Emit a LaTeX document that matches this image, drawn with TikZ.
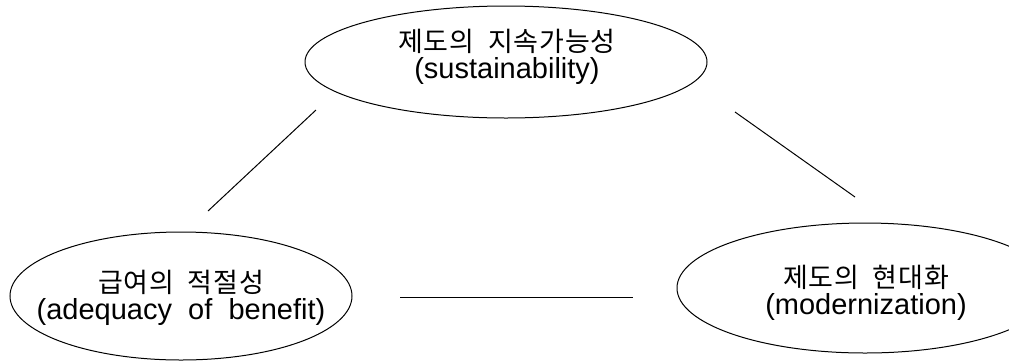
\documentclass[tikz,border=0pt]{standalone}
\usepackage{fontspec}
\setmainfont{Liberation Sans}
\newfontfamily\kr[LetterSpace=3]{Noto Sans CJK KR}
\tikzset{
  label text/.style={inner sep=0pt, align=center,
    font=\fontsize{29}{27}\selectfont},
  rim/.style={draw, line width=1pt},
  link/.style={draw, line width=1pt}
}
\newcommand{\krline}[1]{{\kr\fontsize{27}{27}\selectfont #1}}
\begin{document}
\begin{tikzpicture}[x=1pt,y=-1pt]
\useasboundingbox (0,0) rectangle (1009,360);
\clip (0,0) rectangle (1009,360);
\node[label text] (top) at (507,57)
  {\krline{제도의\ \ 지속가능성}\\(sustainability)};
\node[label text] (left) at (181,298)
  {\krline{급여의\ \ 적절성}\\(adequacy\ \ of\ \ benefit)};
\node[label text] (right) at (866,293)
  {\krline{제도의\ \ 현대화}\\(modernization)};
\draw[rim] (506,62) ellipse [x radius=201, y radius=56];
\draw[rim] (181,296) ellipse [x radius=171, y radius=64];
\draw[rim] (865,288) ellipse [x radius=188, y radius=65];
\coordinate (a1) at (316,110);
\coordinate (a2) at (208,211);
\coordinate (b1) at (735,112);
\coordinate (b2) at (855,197);
\coordinate (c1) at (400,297);
\coordinate (c2) at (633,297);
\draw[link] (a1) -- (a2);
\draw[link] (b1) -- (b2);
\draw[link] (c1) -- (c2);
\end{tikzpicture}
\end{document}
